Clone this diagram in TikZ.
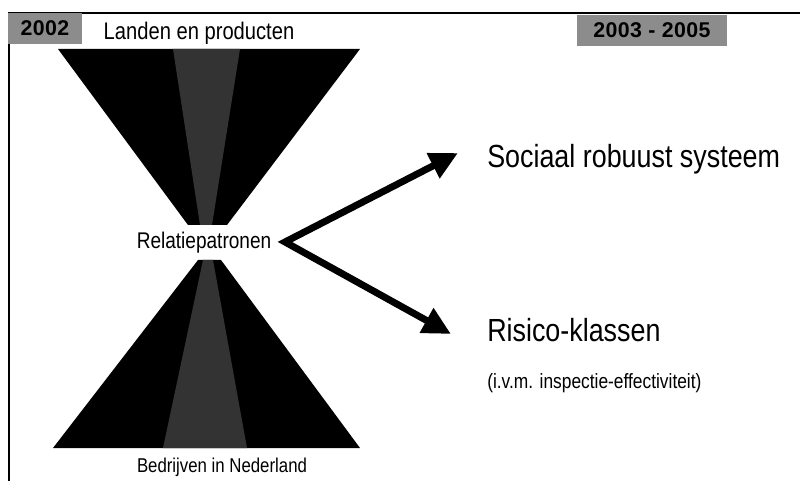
\documentclass[tikz,border=0pt]{standalone}
\usepackage{fontspec}
\setmainfont{Liberation Sans}[FakeStretch=0.84]
\newfontfamily\yearfont{Liberation Sans}[LetterSpace=2]
\usetikzlibrary{arrows.meta}
\tikzset{
txt/.style = {inner sep=0pt, font=\fontsize{#1}{#1}\selectfont},
txt/.default = 17pt,
yearbox/.style = {fill=black!45, inner sep=0pt, minimum height=23pt, minimum width=#1, font=\yearfont\bfseries\fontsize{16pt}{16pt}\selectfont},
yearbox/.default = 55pt,
fork/.style = {line width=5.2pt, line join=miter, {Triangle[length=21pt,width=20pt]}-{Triangle[length=21pt,width=20pt]}},
}

\begin{document}
\begin{tikzpicture}[x=0.75pt, y=-0.75pt]
    \useasboundingbox (0,0) rectangle (800,481);
    % frame
    \draw[line width=1.3pt] (9,481) -- (9,13) -- (800,13);

    % funnel
    \fill[black] (58,49) -- (360,49) -- (227,225) -- (188,225) -- cycle;
    \fill[black!80] (173,49) -- (240,49) -- (212,225) -- (200,225) -- cycle;
    \fill[black] (198,260) -- (221,260) -- (360,448) -- (53,448) -- cycle;
    \fill[black!80] (203,260) -- (213,260) -- (247,448) -- (163,448) -- cycle;

    \node[yearbox] (yearOld) at (45,28.5) {2002};
    \node[yearbox=112pt] (yearNew) at (652,30.5) {2003 - 2005};
    \node[txt=18pt] (landen) at (199,33) {Landen en producten};
    \node[txt] (relatie) at (204,243) {Relatiepatronen};
    \node[txt=15pt] (bedrijven) at (222,467) {Bedrijven in Nederland};

    \node[txt=24pt, anchor=west] (sociaal) at (487,159) {Sociaal robuust systeem};
    \node[txt=24pt, anchor=west] (risico) at (487,330) {Risico-klassen};
    \node[txt=15.5pt, anchor=west] (ivm) at (487,383) {(i.v.m. inspectie-effectiviteit)};

    \coordinate (forkPt) at (285,242);
    \coordinate (tipUp) at (458,153);
    \coordinate (tipDown) at (451,334);
    \draw[fork] (tipUp) -- (forkPt) -- (tipDown);
\end{tikzpicture}
\end{document}
